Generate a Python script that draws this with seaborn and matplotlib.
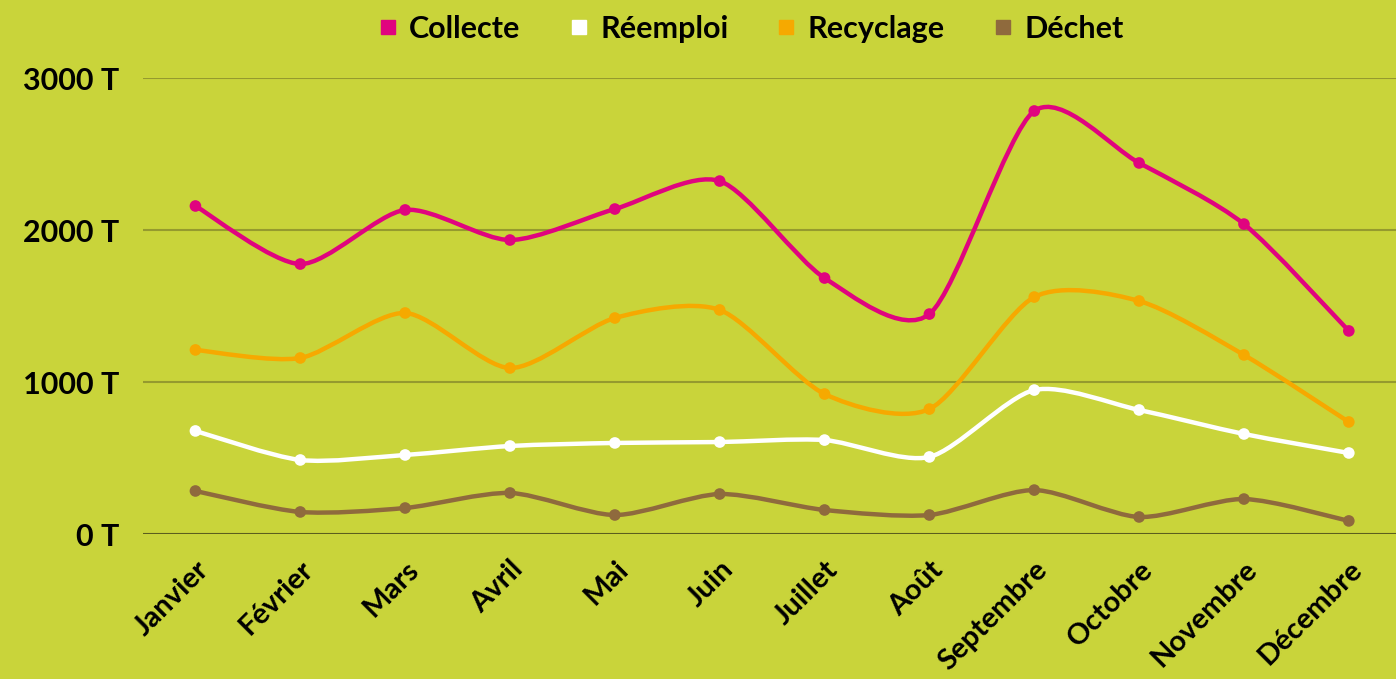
import numpy as np
import pandas as pd
import matplotlib
matplotlib.use("Agg")
import matplotlib.pyplot as plt
import seaborn as sns
from matplotlib.path import Path
from matplotlib.patches import PathPatch
from matplotlib.lines import Line2D

months = ["Janvier", "Février", "Mars", "Avril", "Mai", "Juin", "Juillet",
          "Août", "Septembre", "Octobre", "Novembre", "Décembre"]
collecte = [2158, 1776, 2132, 1934, 2138, 2322, 1684, 1447, 2783, 2441, 2039, 1336]
reemploi = [678, 487, 520, 579, 599, 605, 618, 507, 947, 816, 658, 533]
recyclage = [1211, 1158, 1454, 1092, 1421, 1474, 921, 822, 1559, 1533, 1178, 737]
dechet = [283, 145, 171, 270, 125, 263, 158, 125, 289, 112, 230, 86]
series_names = ["Collecte", "Réemploi", "Recyclage", "Déchet"]
yticks = [0, 1000, 2000, 3000]
ytick_labels = ["0 T", "1000 T", "2000 T", "3000 T"]

colors = {"Collecte": "#E0047F", "Réemploi": "#FFFFFF",
          "Recyclage": "#F6A900", "Déchet": "#8F6A3D"}
BG = "#C9D43A"

sns.set_style("white")
plt.rcParams["font.family"] = ["Lato", "DejaVu Sans"]
plt.rcParams["text.color"] = "black"
plt.rcParams["xtick.color"] = "black"
plt.rcParams["ytick.color"] = "black"

fig = plt.figure(figsize=(13.96, 6.79), dpi=100, facecolor=BG)
ax = fig.add_axes([143/1396, 1-534/679, 1-143/1396, (534-78)/679])
ax.set_facecolor(BG)

values = {"Collecte": collecte, "Réemploi": reemploi,
          "Recyclage": recyclage, "Déchet": dechet}
df = pd.DataFrame([{"mois": i, "serie": s, "val": v}
                   for s in series_names for i, v in enumerate(values[s])])

# grid lines
for t in yticks:
    ax.axhline(t, color="#5B5E1E" if t == 0 else "#959A2E", lw=1.5, zorder=1)


def smooth_path(xs, ys, k=0.13):
    pts = np.column_stack([xs, ys]).astype(float)
    n = len(pts)
    verts = [pts[0]]
    codes = [Path.MOVETO]
    for i in range(n - 1):
        p0 = pts[i - 1] if i > 0 else pts[i]
        p1 = pts[i]
        p2 = pts[i + 1]
        p3 = pts[i + 2] if i + 2 < n else pts[i + 1]
        c1 = p1 + (p2 - p0) * k
        c2 = p2 - (p3 - p1) * k
        verts += [c1, c2, p2]
        codes += [Path.CURVE4] * 3
    return Path(verts, codes)


for s in series_names:
    sub = df[df.serie == s]
    patch = PathPatch(smooth_path(sub.mois.values, sub.val.values), fill=False,
                      edgecolor=colors[s], lw=3.2, zorder=3, capstyle="round")
    ax.add_patch(patch)

sns.scatterplot(data=df, x="mois", y="val", hue="serie", palette=colors,
                s=70, edgecolor="none", legend=False, ax=ax, zorder=4)

ax.set_xlim(-0.5, 11.45)
ax.set_ylim(0, 3000)
ax.set_xticks(range(len(months)))
ax.set_xticklabels(months, rotation=45, ha="right", rotation_mode="anchor",
                   fontsize=21, fontweight="bold", color="black")
ax.set_yticks(yticks)
ax.set_yticklabels(ytick_labels, fontsize=22, fontweight="bold", color="black")
ax.tick_params(axis="y", length=0, pad=17)
ax.tick_params(axis="x", length=0, pad=16)
ax.set_xlabel("")
ax.set_ylabel("")
for sp in ax.spines.values():
    sp.set_visible(False)

handles = [Line2D([], [], marker="s", ls="none", color=colors[s], markersize=10)
           for s in series_names]
fig.legend(handles, series_names, loc="center", bbox_to_anchor=(0.537, 0.958),
           ncol=4, frameon=False, prop={"size": 22, "weight": "bold"},
           labelcolor="black", handletextpad=0.3, columnspacing=1.5,
           handlelength=0.8)

fig.savefig("out.png", dpi=100, facecolor=BG)
